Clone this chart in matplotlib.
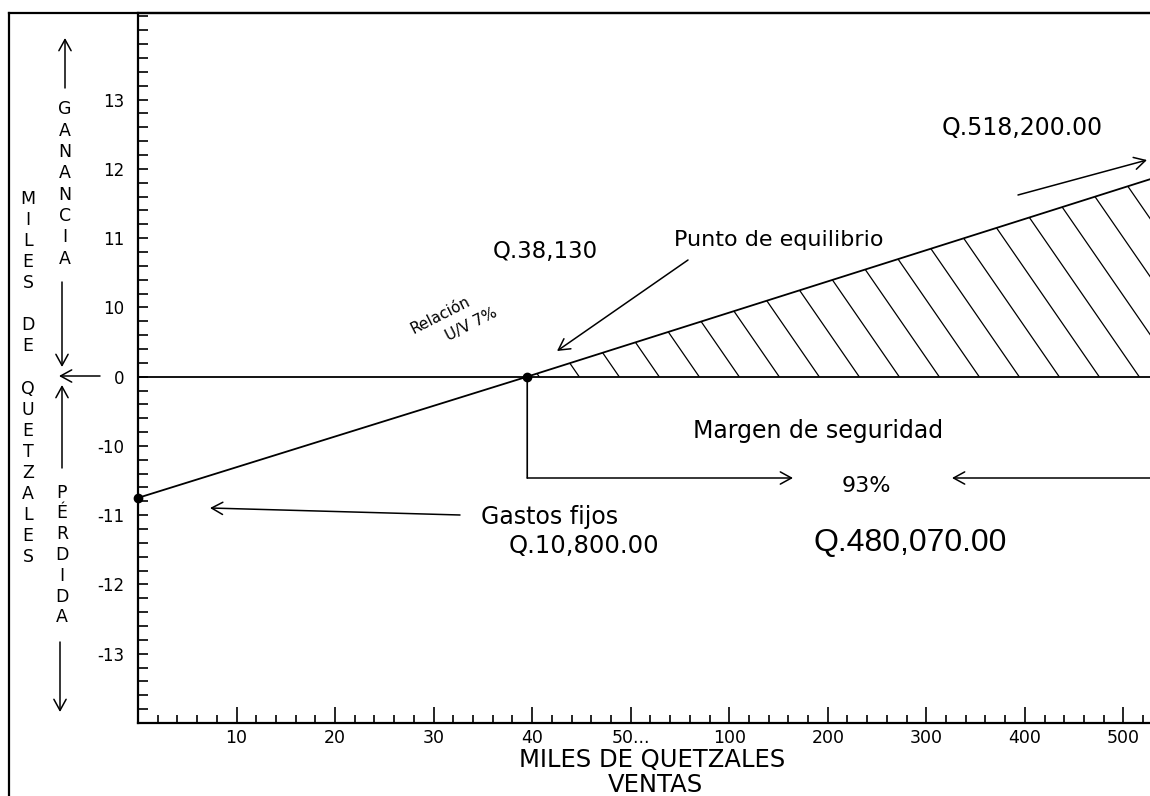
import numpy as np
import matplotlib
matplotlib.use('Agg')
import matplotlib.pyplot as plt
from matplotlib.collections import LineCollection
from matplotlib.lines import Line2D
from matplotlib.patches import FancyArrowPatch
from matplotlib.ticker import FixedLocator, FixedFormatter

# hand-made axes: each break value sits one equal step after the previous one
x_breaks = [0, 10, 20, 30, 40, 50, 100, 200, 300, 400, 500, 600]
y_breaks = [-14, -13, -12, -11, -10, 0, 10, 11, 12, 13, 14, 15]

x_tick_vals = [10, 20, 30, 40, 50, 100, 200, 300, 400, 500]
x_tick_labels = ['10', '20', '30', '40', '50...', '100', '200', '300', '400', '500']
y_tick_vals = [-13, -12, -11, -10, 0, 10, 11, 12, 13]
y_tick_labels = ['-13', '-12', '-11', '-10', '0', '10', '11', '12', '13']

# ventas (miles de Q) -> ganancia / perdida (miles de Q)
ventas = [0, 39.5, 527]
resultado = [-10.75, 0, 11.85]
punto_equilibrio = (39.5, 0)
gastos_fijos = (0, -10.75)

plt.rcParams['font.family'] = 'DejaVu Sans'

W, H = 1150, 796
def fp(x, y):
    # pixel position in the picture -> figure fraction
    return (x / W, 1 - y / H)

x_idx = np.arange(len(x_breaks))
y_idx = np.arange(len(y_breaks))
def fx(v): return np.interp(v, x_breaks, x_idx)
def fx_inv(i): return np.interp(i, x_idx, x_breaks)
def fy(v): return np.interp(v, y_breaks, y_idx)
def fy_inv(i): return np.interp(i, y_idx, y_breaks)

fig = plt.figure(figsize=(11.5, 7.96), dpi=100)
ax = fig.add_axes([138 / W, 1 - 723 / H, 1 - 138 / W, 710 / H])
ax.set_xscale('function', functions=(fx, fx_inv))
ax.set_yscale('function', functions=(fy, fy_inv))
ax.set_xlim(0, 527)
ax.set_ylim(-14, 14.25)

for s in ['left', 'bottom', 'top']:
    ax.spines[s].set_linewidth(1.6)
ax.spines['right'].set_visible(False)

# ticks
ax.xaxis.set_major_locator(FixedLocator(x_tick_vals))
ax.xaxis.set_major_formatter(FixedFormatter(x_tick_labels))
ax.xaxis.set_minor_locator(FixedLocator(fx_inv(np.round(np.arange(0, 52) * 0.2, 6))))
ax.yaxis.set_major_locator(FixedLocator(y_tick_vals))
ax.yaxis.set_major_formatter(FixedFormatter(y_tick_labels))
ax.yaxis.set_minor_locator(FixedLocator(fy_inv(np.round(np.arange(0, 52) * 0.2, 6))))
ax.tick_params(axis='x', which='major', direction='in', length=11.5, width=1.2, labelsize=12.5, pad=4)
ax.tick_params(axis='x', which='minor', direction='in', length=5.8, width=1.2)
ax.tick_params(axis='y', which='major', direction='in', length=7.2, width=1.2, labelsize=12, pad=10)
ax.tick_params(axis='y', which='minor', direction='in', length=7.2, width=1.2)
for t in ax.yaxis.get_major_ticks():
    if abs(t.get_loc()) in (11, 13):
        t.tick1line.set_markersize(13.5)

# zero line and profit line
ax.axhline(0, color='black', lw=1.3)
ax.plot(ventas, resultado, color='black', lw=1.3)
ax.plot(*punto_equilibrio, 'o', color='black', ms=6, zorder=5)
ax.plot(*gastos_fijos, 'o', color='black', ms=6, zorder=5, clip_on=False)

# hatched profit zone
zona = ax.fill_between(ventas[1:], 0, resultado[1:], facecolor='none', edgecolor='none')
aw, ah = 1012, 710
slope = 1.45
step = 40
segs = []
for xb in np.arange(0, aw + ah / slope + step, step):
    segs.append([(xb / aw, 0), ((xb - ah / slope) / aw, 1)])
hatch = LineCollection(segs, colors='black', linewidths=0.9, transform=ax.transAxes)
ax.add_collection(hatch)
hatch.set_clip_path(zona.get_paths()[0], zona.get_transform())

# margin of safety bracket
ax.annotate('', xy=(punto_equilibrio[0], 0), xytext=(punto_equilibrio[0], fp(0, 478)[1]),
            xycoords='data', textcoords=('data', 'figure fraction'),
            arrowprops=dict(arrowstyle='-', lw=1.2, shrinkA=0, shrinkB=0))
ax.annotate('', xy=fp(793, 478), xytext=(punto_equilibrio[0], fp(0, 478)[1]),
            xycoords='figure fraction', textcoords=('data', 'figure fraction'),
            arrowprops=dict(arrowstyle='->,head_length=0.4,head_width=0.22', lw=1.1,
                            shrinkA=0, shrinkB=0, mutation_scale=20))

def arrow(x0, y0, x1, y1):
    fig.add_artist(FancyArrowPatch(
        fp(x0, y0), fp(x1, y1), transform=fig.transFigure,
        arrowstyle='->,head_length=0.4,head_width=0.22', mutation_scale=20,
        lw=1.1, color='black', shrinkA=0, shrinkB=0))

arrow(1150, 478, 952, 478)
arrow(1018, 195, 1147, 160)
arrow(688, 260, 557, 351)
arrow(460, 515, 210, 508)

# left side arrows
arrow(65, 88, 65, 38)
arrow(62, 282, 62, 367)
arrow(62, 468, 62, 385)
arrow(60, 642, 60, 712)
arrow(100, 376, 59, 376)

# outer frame of the drawing
fig.add_artist(Line2D([9 / W, 9 / W], [0, 1 - 13 / H], transform=fig.transFigure, color='black', lw=1.6))
fig.add_artist(Line2D([9 / W, 1], [1 - 13 / H, 1 - 13 / H], transform=fig.transFigure, color='black', lw=1.6))

# stacked labels (one letter per line, blank line between words)
def stacked(text):
    return '\n'.join(c if c != ' ' else '' for c in text)

fig.text(*fp(28, 378), stacked('MILES DE QUETZALES'), ha='center', va='center',
         fontsize=12.5, linespacing=1.22, multialignment='center')
fig.text(*fp(65, 184), stacked('GANANCIA'), ha='center', va='center', fontsize=12.5,
         linespacing=1.24, multialignment='center')
fig.text(*fp(62, 555), stacked('PÉRDIDA'), ha='center', va='center', fontsize=12.5,
         linespacing=1.2, multialignment='center')

# annotations
fig.text(*fp(1022, 128), 'Q.518,200.00', ha='center', va='center', fontsize=17)
fig.text(*fp(779, 240), 'Punto de equilibrio', ha='center', va='center', fontsize=16)
fig.text(*fp(545, 252), 'Q.38,130', ha='center', va='center', fontsize=16.5)
fig.text(*fp(440, 315), 'Relación', ha='center', va='center', fontsize=11, rotation=27, rotation_mode='anchor')
fig.text(*fp(471, 324), 'U/V 7%', ha='center', va='center', fontsize=11, rotation=27, rotation_mode='anchor')
fig.text(*fp(818, 431), 'Margen de seguridad', ha='center', va='center', fontsize=17)
fig.text(*fp(866, 486), '93%', ha='center', va='center', fontsize=16)
fig.text(*fp(910, 543), 'Q.480,070.00', ha='center', va='center', fontsize=23, family='Liberation Sans')
fig.text(*fp(550, 517), 'Gastos fijos', ha='center', va='center', fontsize=17)
fig.text(*fp(584, 546), 'Q.10,800.00', ha='center', va='center', fontsize=17.5)
fig.text(*fp(652, 760), 'MILES DE QUETZALES', ha='center', va='center', fontsize=17.5)
fig.text(*fp(655, 785), 'VENTAS', ha='center', va='center', fontsize=17.5)

fig.savefig('out.png', dpi=100)
